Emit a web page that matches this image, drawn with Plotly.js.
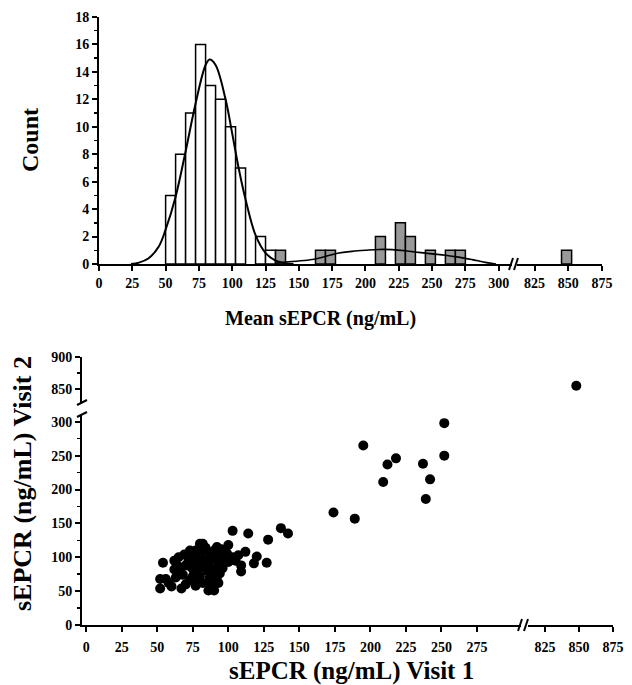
<!DOCTYPE html>
<html><head><meta charset="utf-8">
<script src="https://cdn.plot.ly/plotly-3.0.1.min.js"></script>
<style>html,body{margin:0;padding:0;background:#fff}#chart{width:632px;height:685px}</style>
</head><body><div id="chart"></div>
<script>
// ---------- Top panel: histogram of mean sEPCR ----------
const binWidth = 7.5;
const whiteBinStarts = [50, 57.5, 65, 72.5, 80, 87.5, 95, 102.5, 117.5, 125];
const whiteCounts    = [5, 8, 11, 16, 13, 12, 10, 7, 2, 1];
const grayBinStarts  = [132.5, 162.5, 170, 207.5, 222.5, 230, 245, 260, 267.5];
const grayCounts     = [1, 1, 1, 2, 3, 2, 1, 1, 1];
const grayHighStarts = [845];
const grayHighCounts = [1];
const curve1X = [24, 30, 37, 45, 50, 57.5, 65, 72.5, 80, 83, 87.5, 95, 100, 105, 110, 117.5, 125, 132.5, 140, 146];
const curve1Y = [0, 0.1, 0.4, 1.3, 2.5, 4.9, 8.2, 11.7, 14.5, 14.9, 14.5, 12.0, 9.5, 6.9, 4.7, 2.1, 0.8, 0.25, 0.05, 0];
const curve2X = [132, 140, 150, 160, 170, 180, 190, 200, 210, 220, 230, 240, 250, 260, 270, 280, 290, 298];
const curve2Y = [0.05, 0.15, 0.22, 0.33, 0.55, 0.8, 0.92, 1.0, 1.06, 1.05, 0.97, 0.85, 0.74, 0.64, 0.5, 0.32, 0.12, 0];
const topXTicksLow  = [0, 25, 50, 75, 100, 125, 150, 175, 200, 225, 250, 275, 300];
const topXTicksHigh = [825, 850, 875];
const countTicks = [0, 2, 4, 6, 8, 10, 12, 14, 16, 18];

// ---------- Bottom panel: Visit 1 vs Visit 2 ----------
const visit1 = [252, 252, 218, 212, 237, 242, 239, 195, 209, 174, 189, 137, 142, 103, 114, 128, 127, 120, 118, 112, 109, 109,
  52, 52, 54, 56, 60, 62, 65, 66, 67, 73, 73, 74, 80, 79, 86, 85,
  100, 92, 82, 87, 99, 107, 77, 91, 100, 84, 94, 92, 77, 90,
  58, 63, 64, 68, 70, 72, 75, 76, 77, 78, 80, 81, 82, 83, 84, 86, 87, 88, 89, 90, 93, 94, 95, 96, 93, 98, 103, 105, 70, 69, 75, 79, 88, 91, 62];
const visit2 = [298, 250, 246, 237, 238, 215, 186, 265, 211, 166, 157, 143, 135, 139, 135, 126, 92, 101, 91, 108, 88, 79,
  68, 54, 92, 68, 57, 95, 100, 80, 54, 66, 110, 85, 120, 100, 51, 80,
  118, 115, 120, 106, 106, 103, 110, 96, 93, 86, 76, 66, 66, 51,
  62, 70, 88, 74, 60, 95, 102, 78, 58, 92, 72, 108, 62, 96, 114, 90, 70, 100, 82, 110, 88, 100, 112, 84, 62, 96, 100, 95, 88, 104, 72, 84, 60, 74, 82];
const visit1High = [848];
const visit2High = [855];
const botXTicksLow  = [0, 25, 50, 75, 100, 125, 150, 175, 200, 225, 250, 275];
const botXTicksHigh = [825, 850, 875];
const botYTicksLow  = [0, 50, 100, 150, 200, 250, 300];
const botYTicksHigh = [850, 900];

// ---------- layout helpers (pixel positions -> paper) ----------
const W = 632, H = 685;
const px = v => v / W;
const py = v => 1 - v / H;
const FONT = 'Liberation Serif, Times New Roman, serif';
const tickFont = {family: FONT, size: 14, color: '#000', weight: 700};
const axBase = {showline: true, linecolor: '#000', linewidth: 2, ticks: 'outside', ticklen: 5, tickwidth: 2,
  tickcolor: '#000', showgrid: false, zeroline: false, tickfont: tickFont, fixedrange: true, tickmode: 'array'};
const minorY = (d) => ({dtick: d, ticks: 'outside', ticklen: 3, tickwidth: 1.5, tickcolor: '#000', showgrid: false});
const bold = vals => vals.map(v => '<b>' + v + '</b>');

const centers = (starts) => starts.map(s => s + binWidth / 2);
const barLine = {color: '#000', width: 1.5};

const traces = [
  {type: 'bar', x: centers(whiteBinStarts), y: whiteCounts, width: binWidth, xaxis: 'x', yaxis: 'y',
   marker: {color: '#ffffff', line: barLine}},
  {type: 'bar', x: centers(grayBinStarts), y: grayCounts, width: binWidth, xaxis: 'x', yaxis: 'y',
   marker: {color: '#999999', line: barLine}},
  {type: 'bar', x: centers(grayHighStarts), y: grayHighCounts, width: binWidth, xaxis: 'x2', yaxis: 'y',
   marker: {color: '#999999', line: barLine}},
  {type: 'scatter', mode: 'lines', x: curve1X, y: curve1Y, xaxis: 'x', yaxis: 'y',
   line: {color: '#000', width: 2, shape: 'spline', smoothing: 1}},
  {type: 'scatter', mode: 'lines', x: curve2X, y: curve2Y, xaxis: 'x', yaxis: 'y',
   line: {color: '#000', width: 1.6, shape: 'spline', smoothing: 1}},
  {type: 'scatter', mode: 'markers', x: visit1, y: visit2, xaxis: 'x3', yaxis: 'y3',
   marker: {color: '#000', size: 10}},
  {type: 'scatter', mode: 'markers', x: visit1High, y: visit2High, xaxis: 'x4', yaxis: 'y4',
   marker: {color: '#000', size: 10}}
];

function brk(x0, y0, x1, y1) {
  return {type: 'line', xref: 'paper', yref: 'paper', x0: px(x0), y0: py(y0), x1: px(x1), y1: py(y1),
    line: {color: '#000', width: 2}};
}
function ann(text, x, y, size, angle) {
  return {text: '<b>' + text + '</b>', xref: 'paper', yref: 'paper', x: px(x), y: py(y), textangle: angle || 0,
    xanchor: 'center', yanchor: 'middle', showarrow: false, font: {family: FONT, size: size, color: '#000'}};
}

const layout = {
  width: W, height: H, margin: {l: 0, r: 0, t: 0, b: 0}, paper_bgcolor: '#fff', plot_bgcolor: 'rgba(0,0,0,0)',
  showlegend: false, barmode: 'overlay', hovermode: false,
  xaxis:  {...axBase, domain: [px(99), px(512)], range: [0, 310], anchor: 'y', tickvals: topXTicksLow, ticktext: bold(topXTicksLow)},
  xaxis2: {...axBase, domain: [px(517), px(602)], range: [812, 875], anchor: 'y', tickvals: topXTicksHigh, ticktext: bold(topXTicksHigh)},
  yaxis:  {...axBase, domain: [py(264), py(17)], range: [0, 18], anchor: 'x', tickvals: countTicks, ticktext: bold(countTicks), minor: minorY(1)},
  xaxis3: {...axBase, domain: [px(82), px(521)], range: [-3, 306], anchor: 'y3', tickvals: botXTicksLow, ticktext: bold(botXTicksLow), ticklabelstandoff: 3},
  xaxis4: {...axBase, domain: [px(528), px(613)], range: [812.5, 875], anchor: 'y3', tickvals: botXTicksHigh, ticktext: bold(botXTicksHigh), ticklabelstandoff: 3},
  yaxis3: {...axBase, domain: [py(625), py(415)], range: [0, 310], anchor: 'x3', tickvals: botYTicksLow, ticktext: bold(botYTicksLow), minor: minorY(25)},
  yaxis4: {...axBase, domain: [py(403), py(357)], range: [828, 900], anchor: 'x3', tickvals: botYTicksHigh, ticktext: bold(botYTicksHigh), minor: minorY(25)},
  shapes: [
    brk(509, 270, 513, 258), brk(514, 270, 518, 258),
    brk(518, 631, 522, 619), brk(524, 631, 528, 619),
    brk(77, 405, 87, 400), brk(77, 417, 87, 412)
  ],
  annotations: [
    ann('Count', 30, 140, 24, -90),
    ann('Mean sEPCR (ng/mL)', 320, 318, 20, 0),
    ann('sEPCR (ng/mL) Visit 2', 22, 484, 26, -90),
    ann('sEPCR (ng/mL) Visit 1', 351, 671, 25, 0)
  ]
};

Plotly.newPlot('chart', traces, layout, {staticPlot: true, displayModeBar: false});
</script>
</body></html>
